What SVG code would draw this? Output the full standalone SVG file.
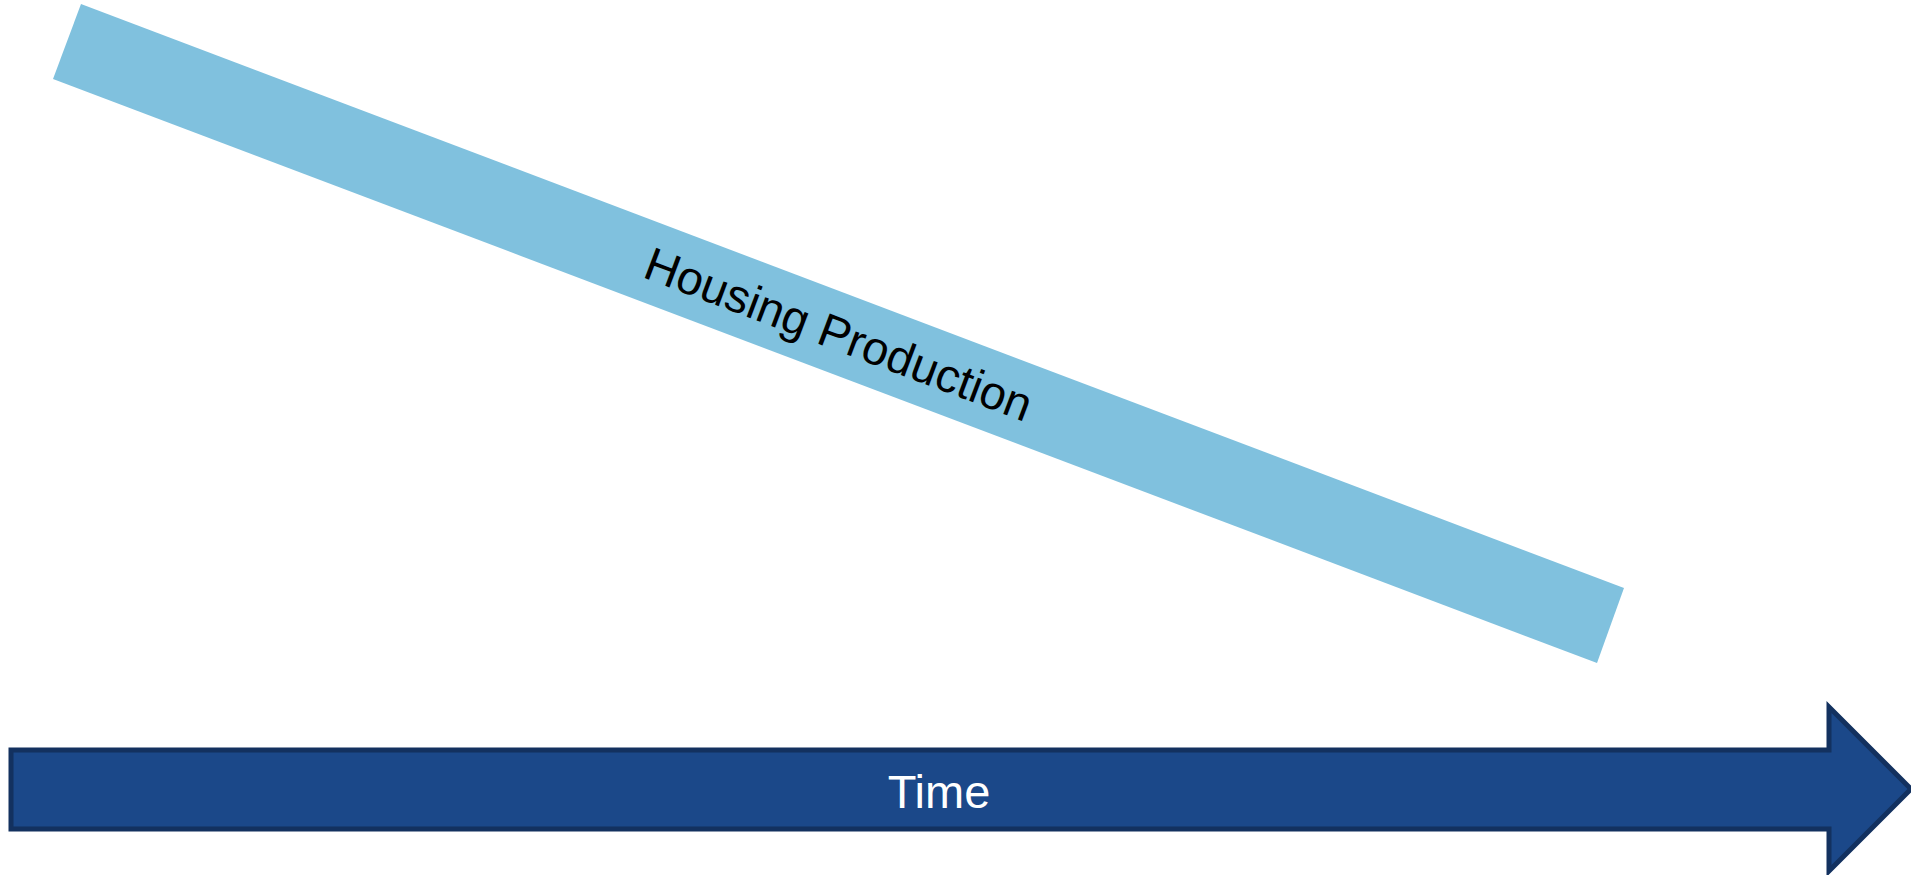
<svg xmlns="http://www.w3.org/2000/svg" width="1911" height="875" viewBox="0 0 1911 875">
  <style>
    .lbl { font-family: "Liberation Sans", Arial, sans-serif; font-size: 47px; text-anchor: middle; }
  </style>
  <rect width="1911" height="875" fill="#ffffff"/>
  <g id="housing-production">
    <polygon points="81,4 1624,588 1597,663 53,79" fill="#80C1DE"/>
    <text class="lbl" x="0" y="17" fill="#000000" transform="translate(839,333.5) rotate(20.73)">Housing Production</text>
  </g>
  <g id="time">
    <path d="M11,750 H1829 V707 L1911,789 L1829,871 V829 H11 Z" fill="#1B4889" stroke="#13315F" stroke-width="5"/>
    <text class="lbl" x="939" y="808" fill="#ffffff">Time</text>
  </g>
  <g id="connectors"/>
</svg>
